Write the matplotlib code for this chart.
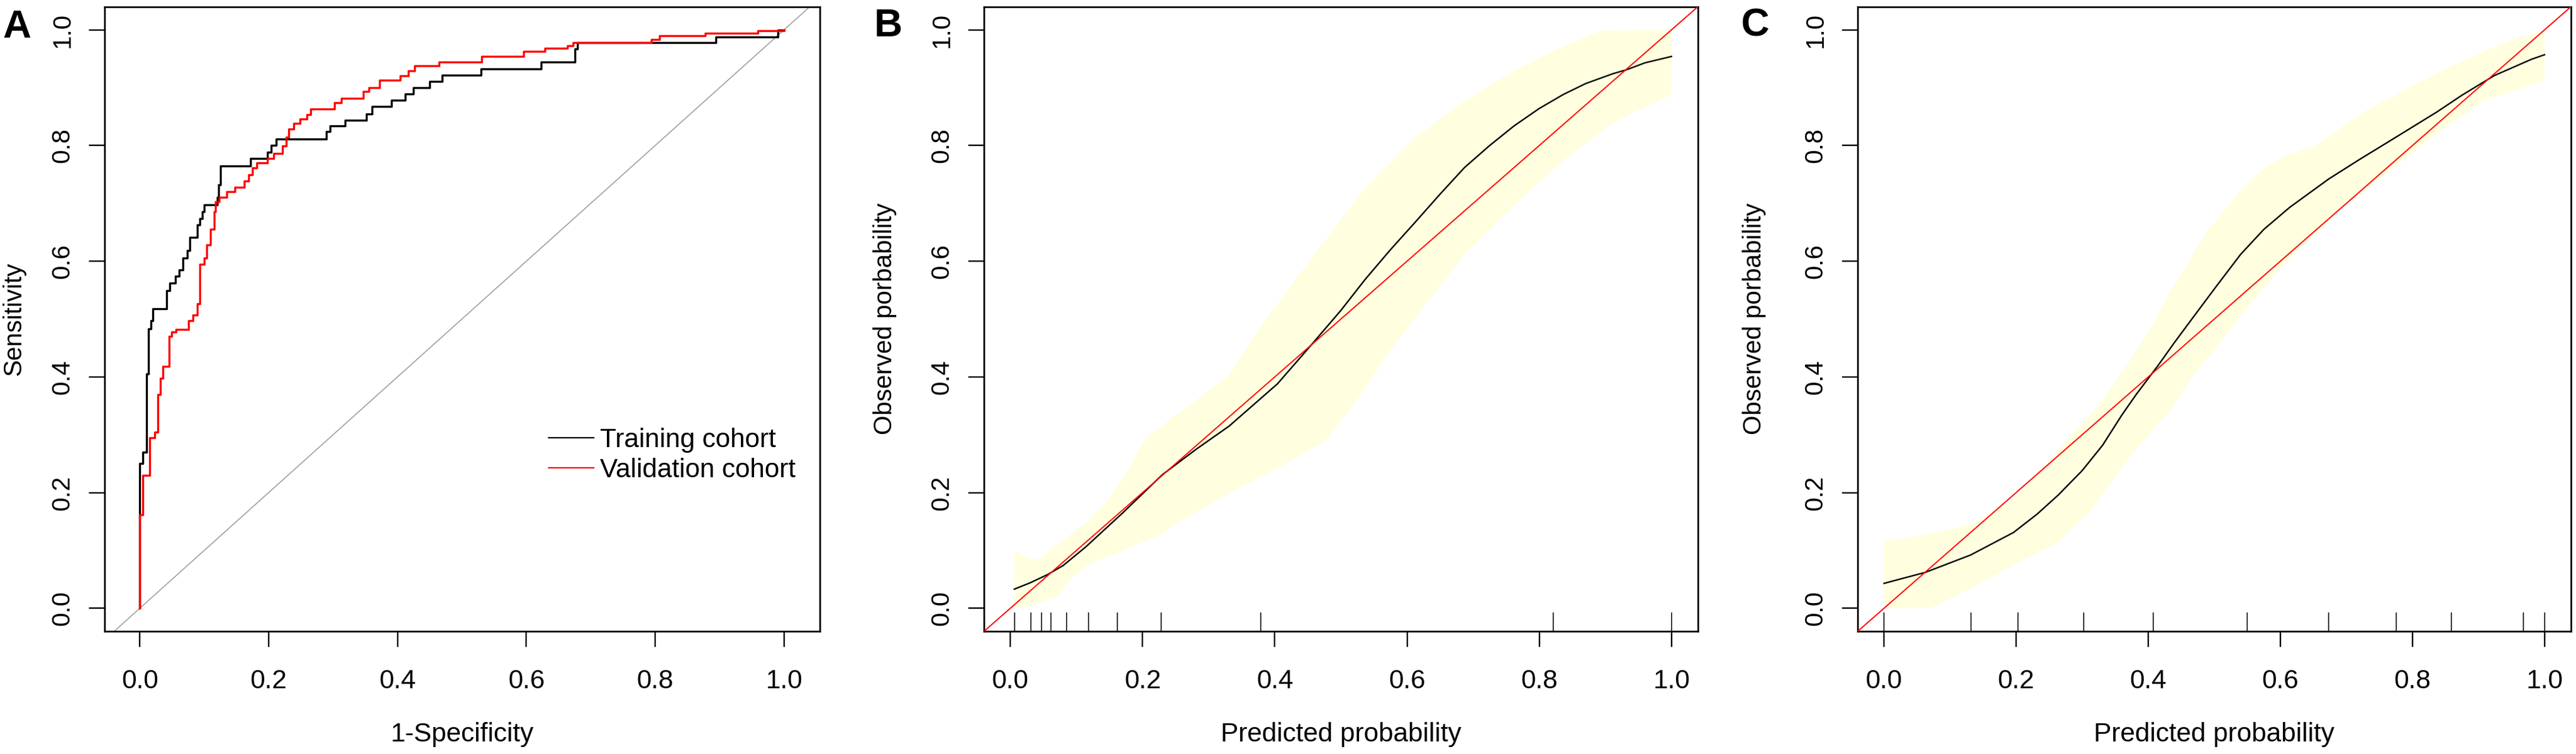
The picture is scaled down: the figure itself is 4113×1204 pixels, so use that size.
import numpy as np
import matplotlib
matplotlib.use("Agg")
import matplotlib.pyplot as plt

# ---------------- data ----------------
train_fpr = [0.0, 0.0, 0.005, 0.010, 0.013, 0.017, 0.020, 0.042, 0.046, 0.055, 0.061, 0.067,
             0.074, 0.078, 0.089, 0.093, 0.097, 0.100, 0.120, 0.122, 0.125, 0.172, 0.198,
             0.204, 0.212, 0.289, 0.295, 0.319, 0.352, 0.360, 0.391, 0.412, 0.425, 0.450,
             0.469, 0.530, 0.623, 0.675, 0.679, 0.894, 0.990, 1.0]
train_tpr = [0.0, 0.25, 0.27, 0.405, 0.483, 0.497, 0.518, 0.549, 0.562, 0.574, 0.585, 0.606,
             0.618, 0.641, 0.663, 0.674, 0.686, 0.697, 0.71, 0.732, 0.765, 0.778, 0.788,
             0.80, 0.811, 0.824, 0.834, 0.844, 0.855, 0.867, 0.878, 0.889, 0.90, 0.911,
             0.922, 0.933, 0.944, 0.967, 0.978, 0.988, 1.0, 1.0]

valid_fpr = [0.0, 0.0, 0.005, 0.015, 0.023, 0.028, 0.032, 0.036, 0.045, 0.049, 0.056,
             0.076, 0.082, 0.089, 0.093, 0.100, 0.104, 0.110, 0.115, 0.117, 0.123,
             0.135, 0.148, 0.162, 0.169, 0.175, 0.182, 0.198, 0.208, 0.221, 0.227,
             0.231, 0.239, 0.249, 0.259, 0.265, 0.302, 0.313, 0.347, 0.356, 0.372,
             0.404, 0.417, 0.427, 0.464, 0.531, 0.596, 0.629, 0.664, 0.673, 0.794,
             0.807, 0.878, 0.959, 1.0]
valid_tpr = [0.0, 0.162, 0.23, 0.295, 0.304, 0.369, 0.398, 0.418, 0.47, 0.478, 0.482,
             0.497, 0.507, 0.526, 0.595, 0.606, 0.628, 0.655, 0.686, 0.703, 0.711,
             0.72, 0.728, 0.739, 0.749, 0.761, 0.77, 0.778, 0.786, 0.799, 0.815,
             0.829, 0.838, 0.846, 0.853, 0.863, 0.874, 0.882, 0.894, 0.9, 0.913,
             0.921, 0.929, 0.938, 0.944, 0.954, 0.963, 0.968, 0.973, 0.978, 0.983,
             0.99, 0.994, 0.998, 1.0]

roc_labels = ["Training cohort", "Validation cohort"]

# Calibration B (training)
B_x = [0.006, 0.03, 0.056, 0.08, 0.114, 0.17, 0.23, 0.28, 0.331, 0.404, 0.455, 0.50,
       0.537, 0.575, 0.612, 0.65, 0.687, 0.725, 0.762, 0.80, 0.836, 0.87, 0.911, 0.932,
       0.96, 1.0]
B_y = [0.033, 0.044, 0.058, 0.074, 0.106, 0.165, 0.231, 0.274, 0.315, 0.388, 0.455, 0.515,
       0.569, 0.62, 0.667, 0.716, 0.762, 0.80, 0.834, 0.864, 0.888, 0.907, 0.924, 0.931,
       0.943, 0.954]
B_up_x = [0.006, 0.02, 0.034, 0.045, 0.078, 0.115, 0.15, 0.186, 0.205, 0.23, 0.295, 0.331,
          0.36, 0.40, 0.462, 0.537, 0.612, 0.687, 0.762, 0.836, 0.893, 1.0]
B_up_y = [0.10, 0.09, 0.084, 0.086, 0.117, 0.148, 0.19, 0.255, 0.294, 0.316, 0.372, 0.403,
          0.455, 0.52, 0.615, 0.727, 0.813, 0.877, 0.929, 0.971, 0.999, 1.0]
B_lo_x = [0.006, 0.03, 0.05, 0.07, 0.089, 0.114, 0.15, 0.223, 0.259, 0.331, 0.404, 0.477,
          0.537, 0.574, 0.649, 0.687, 0.762, 0.836, 0.911, 1.0]
B_lo_y = [0.0, 0.004, 0.012, 0.019, 0.047, 0.073, 0.09, 0.125, 0.151, 0.199, 0.242, 0.29,
          0.381, 0.445, 0.556, 0.612, 0.697, 0.774, 0.839, 0.888]
B_rug = [0.006, 0.031, 0.047, 0.061, 0.085, 0.118, 0.162, 0.228, 0.379, 0.821, 1.0]

# Calibration C (validation)
C_x = [0.0, 0.0625, 0.131, 0.196, 0.232, 0.264, 0.30, 0.331, 0.36, 0.382, 0.415, 0.44,
       0.466, 0.502, 0.54, 0.575, 0.614, 0.673, 0.72, 0.763, 0.80, 0.837, 0.875, 0.911,
       0.924, 0.96, 0.98, 1.0]
C_y = [0.043, 0.062, 0.092, 0.131, 0.163, 0.196, 0.238, 0.282, 0.334, 0.37, 0.42, 0.46,
       0.50, 0.555, 0.612, 0.655, 0.693, 0.742, 0.776, 0.806, 0.832, 0.858, 0.887, 0.912,
       0.921, 0.939, 0.949, 0.957]
C_up_x = [0.0, 0.061, 0.135, 0.196, 0.232, 0.264, 0.331, 0.382, 0.40, 0.44, 0.485, 0.544,
          0.577, 0.603, 0.652, 0.726, 0.80, 0.874, 0.948, 1.0]
C_up_y = [0.116, 0.127, 0.146, 0.19, 0.23, 0.274, 0.36, 0.445, 0.478, 0.56, 0.645, 0.728,
          0.763, 0.78, 0.80, 0.858, 0.903, 0.945, 0.982, 1.0]
C_lo_x = [0.0, 0.071, 0.128, 0.196, 0.264, 0.314, 0.365, 0.40, 0.432, 0.466, 0.50, 0.54,
          0.61, 0.689, 0.763, 0.837, 0.911, 1.0]
C_lo_y = [0.0, 0.0, 0.032, 0.075, 0.114, 0.17, 0.252, 0.30, 0.338, 0.40, 0.446, 0.506,
          0.60, 0.688, 0.754, 0.821, 0.879, 0.912]
C_rug = [0.0, 0.132, 0.203, 0.302, 0.408, 0.550, 0.673, 0.775, 0.859, 0.968, 1.0]

ticks = [0.0, 0.2, 0.4, 0.6, 0.8, 1.0]
tick_labels = ["0.0", "0.2", "0.4", "0.6", "0.8", "1.0"]
panel_letters = ["A", "B", "C"]

# ---------------- style ----------------
FONT = "Liberation Sans"
plt.rcParams["font.family"] = [FONT, "DejaVu Sans"]
FS_H = 30.5   # horizontal text
FS_V = 29     # rotated text
BAND = "#FFFFE0"

fig = plt.figure(figsize=(41.13, 12.04), dpi=100)
W, H = 4113.0, 1204.0
bottom = 1 - 1008.2 / H
height = 997.5 / H
axA = fig.add_axes([167 / W, bottom, 1142 / W, height])
axB = fig.add_axes([1571 / W, bottom, 1140 / W, height])
axC = fig.add_axes([2966 / W, bottom, 1139 / W, height])


def style(ax, xlim, xlabel, ylabel, ylab_x):
    ax.set_xlim(*xlim)
    ax.set_ylim(-0.04, 1.04)
    ax.set_xticks(ticks)
    ax.set_xticklabels(tick_labels, fontsize=FS_H)
    ax.set_yticks(ticks)
    ax.set_yticklabels(tick_labels, fontsize=FS_V, rotation=90, va="center")
    ax.tick_params(axis="both", direction="out", length=18, width=1.7, color="black")
    ax.tick_params(axis="x", pad=25)
    ax.tick_params(axis="y", pad=17)
    for s in ax.spines.values():
        s.set_linewidth(1.9)
        s.set_color("black")
    ax.set_xlabel(xlabel, fontsize=FS_H)
    ax.set_ylabel(ylabel, fontsize=FS_V)
    ax.xaxis.set_label_coords(0.5, -0.1452)
    ax.yaxis.set_label_coords(ylab_x, 0.5)


# ---------------- Panel A: ROC ----------------
axA.axline((0, 0), (1, 1), color="#A0A0A0", lw=1.2, zorder=1)
lt, = axA.step(train_fpr, train_tpr, where="post", color="black", lw=2.4, zorder=3)
lv, = axA.step(valid_fpr, valid_tpr, where="post", color="#FF0000", lw=2.4, zorder=4)
style(axA, (-0.0547, 1.0556), "1-Specificity", "Sensitivity", -0.1103)
leg = axA.legend([lt, lv], roc_labels, loc="upper left", bbox_to_anchor=(0.6208, 0.326),
                 frameon=False, borderpad=0, borderaxespad=0, handlelength=1.70,
                 handletextpad=0.24, labelspacing=0.18, prop={"family": FONT, "size": FS_H})
for l in leg.get_lines():
    l.set_linewidth(1.6)


# ---------------- Calibration panels ----------------
def calib(ax, cx, cy, ux, uy, lx, ly, rug, ylab_x):
    px = np.concatenate([ux, lx[::-1]])
    py = np.concatenate([uy, ly[::-1]])
    ax.fill(px, py, color=BAND, lw=0, zorder=1)
    ax.plot(cx, cy, color="black", lw=1.7, zorder=3, solid_joinstyle="round")
    ax.axline((0, 0), (1, 1), color="#FF0000", lw=1.4, zorder=4)
    ax.vlines(rug, 0, 0.03, transform=ax.get_xaxis_transform(), color="black", lw=1.1, zorder=5)
    style(ax, (-0.04, 1.04), "Predicted probability", "Observed porbability", ylab_x)


calib(axB, B_x, B_y, B_up_x, B_up_y, B_lo_x, B_lo_y, B_rug, -0.1223)
calib(axC, C_x, C_y, C_up_x, C_up_y, C_lo_x, C_lo_y, C_rug, -0.1282)

# ---------------- panel letters ----------------
for letter, px, py in zip(panel_letters, [4, 1396, 2779], [59.5, 58, 58]):
    fig.text(px / W, 1 - py / H, letter, fontsize=45, fontweight="bold",
             ha="left", va="baseline")

fig.savefig("out.png", dpi=100)
